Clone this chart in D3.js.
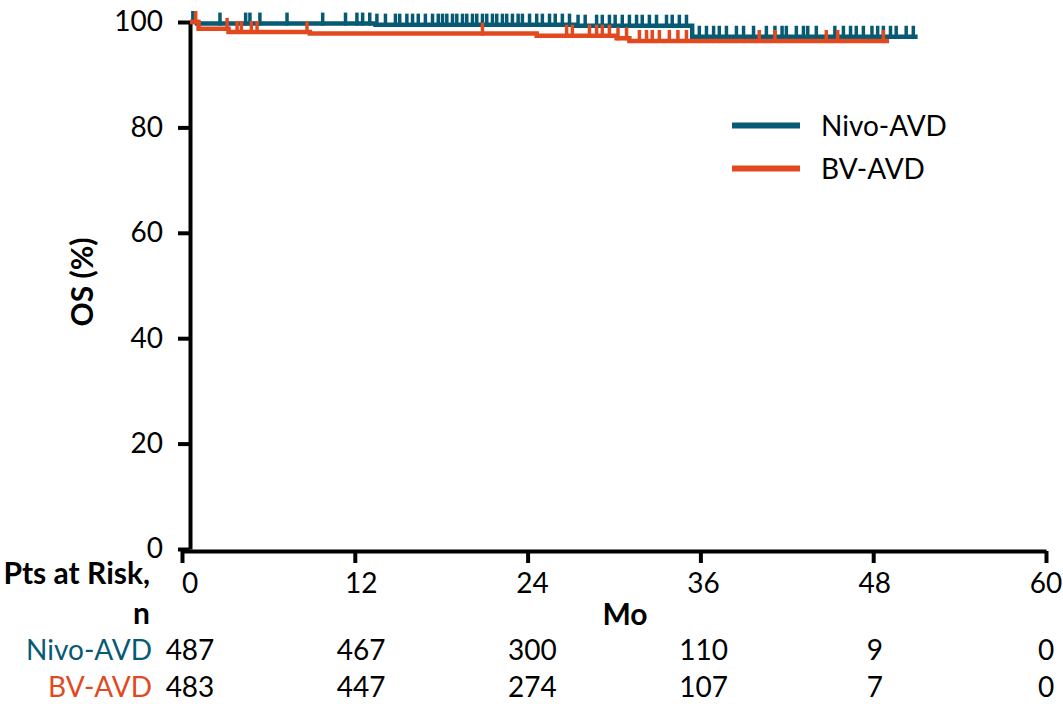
<!DOCTYPE html>
<html>
<head>
<meta charset="utf-8">
<script src="https://cdn.jsdelivr.net/npm/d3@7"></script>
<style>
  body { margin: 0; background: #fff; }
  svg text { font-family: Lato, "DejaVu Sans", sans-serif; }
</style>
</head>
<body>
<script>
// risk table + axis ticks
const months = [0, 12, 24, 36, 48, 60];
const yTicks = [0, 20, 40, 60, 80, 100];
const groups = ["Nivo-AVD", "BV-AVD"];
const nivoRisk = [487, 467, 300, 110, 9, 0];
const bvRisk = [483, 447, 274, 107, 7, 0];

// KM steps (month, OS %)
const nivoTimes = [0, 0.5, 13.0, 27.0, 35.2];
const nivoSurv = [100, 99.7, 99.5, 99.3, 97.2];
const nivoEnd = 51.0;
const bvTimes = [0, 0.6, 2.7, 8.4, 24.3, 29.9, 30.8];
const bvSurv = [100, 98.7, 98.1, 97.8, 97.4, 96.9, 96.4];
const bvEnd = 49.0;

// censor marks (months)
const nivoCensor = [0.2, 2.1, 3.9, 4.2, 4.9, 6.8, 9.3, 10.9, 11.7, 12.1,
  12.6, 13.1, 13.7, 14.4, 14.7, 15.2, 15.6, 16.0, 16.5, 17.0, 17.4, 17.7, 18.0,
  18.4, 18.7, 19.1, 19.4, 19.8, 20.1, 20.5, 20.8, 21.2, 21.5, 21.9, 22.2, 22.6,
  23.0, 23.3, 23.8, 24.3, 24.7, 25.2, 25.6, 26.1, 26.6, 27.2, 27.7, 28.5, 28.9,
  29.4, 29.8, 30.3, 30.8, 31.3, 31.7, 32.2, 32.7, 33.4, 33.8, 34.3, 34.8, 35.7,
  36.2, 36.7, 37.1, 37.6, 38.3, 38.8, 39.5, 40.4, 41.0, 41.5, 41.8, 42.5, 43.0,
  43.3, 43.9, 45.2, 45.8, 46.3, 46.7, 47.2, 47.8, 48.2, 48.6, 49.1, 49.5, 50.2, 50.7];
const bvCensor = [0.4, 2.6, 3.3, 3.6, 4.3, 4.7, 8.2, 20.5, 26.4, 26.8, 28.0, 28.5,
  28.9, 29.4, 30.0, 30.6, 31.5, 32.0, 32.4, 32.9, 33.6, 34.2, 34.8, 39.9, 41.0,
  44.6, 45.4, 48.6];

const teal = "#075a73";
const orange = "#e2491e";

const width = 1063, height = 704;
const svg = d3.select("body").append("svg")
  .attr("width", width)
  .attr("height", height);

const xTick = d3.scaleLinear().domain([0, 60]).range([182, 1046]);
const x = d3.scaleLinear().domain([0, 60]).range([190, 1046]);
const y = d3.scaleLinear().domain([0, 100]).range([549, 22]);

// y axis
const yAxis = svg.append("g")
  .attr("transform", "translate(190,0)")
  .call(d3.axisLeft(y).tickValues(yTicks).tickSize(12).tickSizeOuter(0).tickPadding(15));
yAxis.select(".domain").attr("stroke", "#000").attr("stroke-width", 4);
yAxis.selectAll(".tick line").attr("stroke", "#000").attr("stroke-width", 4);
yAxis.selectAll(".tick text")
  .attr("font-size", 28)
  .attr("font-family", "Lato")
  .attr("fill", "#000");

// x axis (ticks only, labels placed separately)
const xAxis = svg.append("g")
  .attr("transform", "translate(0,551)")
  .call(d3.axisBottom(xTick).tickValues(months).tickSize(12).tickSizeOuter(0).tickFormat(""));
xAxis.select(".domain").attr("stroke", "#000").attr("stroke-width", 4);
xAxis.selectAll(".tick line").attr("stroke", "#000").attr("stroke-width", 4);

svg.append("g").selectAll("text")
  .data(months)
  .enter().append("text")
  .attr("x", d => x(d))
  .attr("y", 593)
  .attr("text-anchor", "middle")
  .attr("font-size", 28)
  .text(d => d);

svg.append("text")
  .attr("x", 625).attr("y", 625)
  .attr("text-anchor", "middle")
  .attr("font-size", 30).attr("font-weight", "bold")
  .text("Mo");

svg.append("text")
  .attr("transform", "translate(93,282) rotate(-90)")
  .attr("text-anchor", "middle")
  .attr("font-size", 30).attr("font-weight", "bold")
  .text("OS (%)");

// survival curves
function stepAt(times, surv, t) {
  let s = surv[0];
  for (let i = 0; i < times.length; i++) if (times[i] <= t) s = surv[i];
  return s;
}
const line = d3.line()
  .x(d => x(d[0]))
  .y(d => y(d[1]))
  .curve(d3.curveStepAfter);

const series = [
  { times: nivoTimes, surv: nivoSurv, end: nivoEnd, censor: nivoCensor, color: teal },
  { times: bvTimes, surv: bvSurv, end: bvEnd, censor: bvCensor, color: orange }
];

series.forEach(s => {
  const pts = s.times.map((t, i) => [t, s.surv[i]]);
  pts.push([s.end, s.surv[s.surv.length - 1]]);
  const g = svg.append("g");
  g.append("path")
    .datum(pts)
    .attr("d", line)
    .attr("fill", "none")
    .attr("stroke", s.color)
    .attr("stroke-width", 4.5);
  g.selectAll("line")
    .data(s.censor)
    .enter().append("line")
    .attr("x1", d => x(d)).attr("x2", d => x(d))
    .attr("y1", d => y(stepAt(s.times, s.surv, d)) + 2)
    .attr("y2", d => y(stepAt(s.times, s.surv, d)) - 11)
    .attr("stroke", s.color)
    .attr("stroke-width", 3.5);
});

// legend
const legend = svg.append("g");
[[teal, 125.5], [orange, 168.5]].forEach((d, i) => {
  legend.append("line")
    .attr("x1", 732).attr("x2", 800)
    .attr("y1", d[1]).attr("y2", d[1])
    .attr("stroke", d[0]).attr("stroke-width", 6);
  legend.append("text")
    .attr("x", 821).attr("y", d[1] + 10)
    .attr("font-size", 28)
    .attr("fill", "#000")
    .text(groups[i]);
});

// risk table
svg.append("text")
  .attr("x", 150).attr("y", 584)
  .attr("text-anchor", "end")
  .attr("font-size", 30).attr("font-weight", "bold")
  .text("Pts at Risk,");
svg.append("text")
  .attr("x", 150).attr("y", 624)
  .attr("text-anchor", "end")
  .attr("font-size", 30).attr("font-weight", "bold")
  .text("n");

[[nivoRisk, teal, 660], [bvRisk, orange, 697]].forEach((r, i) => {
  svg.append("text")
    .attr("x", 152).attr("y", r[2])
    .attr("text-anchor", "end")
    .attr("font-size", 28)
    .attr("fill", r[1])
    .text(groups[i]);
  svg.append("g").selectAll("text")
    .data(r[0])
    .enter().append("text")
    .attr("x", (d, j) => x(months[j]))
    .attr("y", r[2])
    .attr("text-anchor", "middle")
    .attr("font-size", 28)
    .text(d => d);
});
</script>
</body>
</html>
